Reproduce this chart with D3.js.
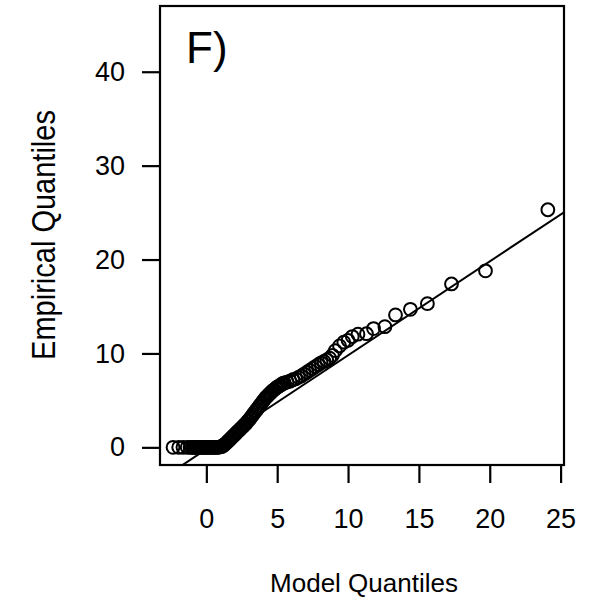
<!DOCTYPE html>
<html>
<head>
<meta charset="utf-8">
<script src="https://cdn.jsdelivr.net/npm/d3@7"></script>
<style>
  body { margin: 0; background: #fff; }
  text { font-family: "Liberation Sans", Arial, sans-serif; fill: #000; }
</style>
</head>
<body>
<svg id="chart" width="603" height="602"></svg>
<script>
// model (theoretical) quantiles, sorted
var modelQ = [-2.35, -1.95, -1.65, -1.35, -1.15, -1.0, -0.9, -0.8, -0.7, -0.6, -0.5, -0.4, -0.3,
  -0.2, -0.1, 0, 0.1, 0.2, 0.3, 0.4, 0.5, 0.6, 0.7, 0.8, 0.9, 1.0,
  1.1, 1.2, 1.3, 1.4, 1.5, 1.6, 1.7, 1.8, 1.9, 2.0, 2.1, 2.2, 2.3, 2.4, 2.5,
  2.6, 2.7, 2.8, 2.9, 3.0, 3.1, 3.2, 3.3, 3.4, 3.5, 3.6, 3.7, 3.8, 3.9, 4.0,
  4.1, 4.2, 4.3, 4.4, 4.5, 4.6, 4.7, 4.8, 4.9, 5.0, 5.1, 5.2, 5.3, 5.4, 5.5,
  5.7, 5.9, 6.1, 6.3, 6.5, 6.7, 6.9, 7.1, 7.3, 7.5, 7.7, 7.9, 8.1, 8.3, 8.5, 8.7, 8.9,
  9.1, 9.4, 9.7, 10.0, 10.3, 10.7, 11.3, 11.8, 12.6, 13.35, 14.4, 15.6, 17.3, 19.7, 24.1];
// empirical quantiles, sorted
var empiricalQ = [0, 0, 0, 0, 0, 0, 0, 0, 0, 0, 0, 0, 0,
  0, 0, 0, 0, 0, 0, 0, 0, 0, 0, 0, 0.02, 0.05,
  0.1, 0.2, 0.3, 0.45, 0.6, 0.75, 0.9, 1.05, 1.2, 1.35, 1.5, 1.65, 1.8, 1.95, 2.1,
  2.25, 2.4, 2.55, 2.75, 2.9, 3.1, 3.3, 3.5, 3.7, 3.9, 4.1, 4.3, 4.5, 4.7, 4.9,
  5.1, 5.3, 5.45, 5.6, 5.75, 5.9, 6.05, 6.15, 6.3, 6.4, 6.5, 6.6, 6.7, 6.8, 6.85,
  6.95, 7.05, 7.2, 7.3, 7.45, 7.6, 7.8, 8.0, 8.2, 8.4, 8.6, 8.8, 9.0, 9.15, 9.3, 9.5, 9.8,
  10.3, 10.8, 11.2, 11.4, 11.8, 12.05, 12.1, 12.65, 12.85, 14.1, 14.7, 15.3, 17.4, 18.8, 25.3];

var xTicks = [0, 5, 10, 15, 20, 25];
var yTicks = [0, 10, 20, 30, 40];
var refLine = {slope: 1.0, intercept: -0.2};
var panelLabel = "F)";

var svg = d3.select("#chart");
var plotL = 160, plotR = 564, plotT = 6, plotB = 465;

var x = d3.scaleLinear().domain([-3.27, 25.24]).range([plotL, plotR]);
var y = d3.scaleLinear().domain([-1.88, 47.0]).range([plotB, plotT]);

svg.append("defs").append("clipPath").attr("id", "plotclip")
  .append("rect").attr("x", plotL).attr("y", plotT)
  .attr("width", plotR - plotL).attr("height", plotB - plotT);

// points
svg.append("g")
  .selectAll("circle")
  .data(modelQ).enter().append("circle")
  .attr("cx", function (d) { return x(d); })
  .attr("cy", function (d, i) { return y(empiricalQ[i]); })
  .attr("r", 6.4)
  .attr("fill", "none")
  .attr("stroke", "#000")
  .attr("stroke-width", 2);

// reference line
var xd = x.domain();
svg.append("line")
  .attr("clip-path", "url(#plotclip)")
  .attr("x1", x(xd[0])).attr("y1", y(refLine.intercept + refLine.slope * xd[0]))
  .attr("x2", x(xd[1])).attr("y2", y(refLine.intercept + refLine.slope * xd[1]))
  .attr("stroke", "#000").attr("stroke-width", 2);

// box
svg.append("rect")
  .attr("x", plotL).attr("y", plotT)
  .attr("width", plotR - plotL).attr("height", plotB - plotT)
  .attr("fill", "none").attr("stroke", "#000").attr("stroke-width", 2.2);

// axes
var xAxis = d3.axisBottom(x).tickValues(xTicks).tickSize(18).tickPadding(26);
var gx = svg.append("g").attr("transform", "translate(0," + plotB + ")").call(xAxis);
var yAxis = d3.axisLeft(y).tickValues(yTicks).tickSize(18).tickPadding(17);
var gy = svg.append("g").attr("transform", "translate(" + plotL + ",0)").call(yAxis);

[gx, gy].forEach(function (g) {
  g.select(".domain").remove();
  g.selectAll(".tick line").attr("stroke", "#000").attr("stroke-width", 2.2);
  g.selectAll(".tick text").attr("font-size", 27).style("font-family", "Liberation Sans, Arial, sans-serif");
});
gx.selectAll(".tick text").attr("dy", "0.71em");

// titles
svg.append("text")
  .attr("x", 364).attr("y", 592)
  .attr("text-anchor", "middle")
  .attr("font-size", 26)
  .text("Model Quantiles");

svg.append("text")
  .attr("transform", "translate(55,235) scale(1.15,1) rotate(-90)")
  .attr("text-anchor", "middle")
  .attr("font-size", 29)
  .text("Empirical Quantiles");

svg.append("text")
  .attr("x", 186).attr("y", 63)
  .attr("font-size", 44)
  .text(panelLabel);
</script>
</body>
</html>
